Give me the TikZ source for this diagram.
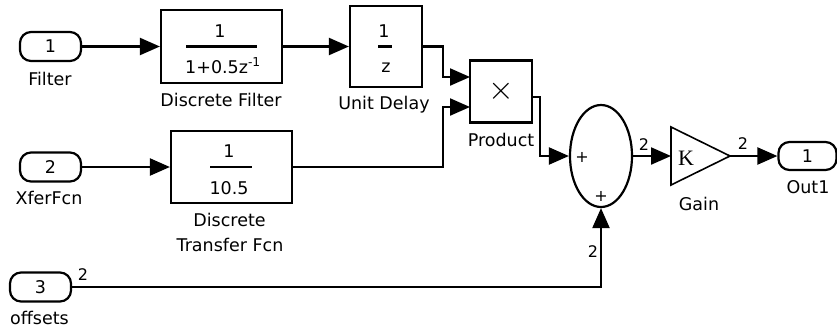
\documentclass[tikz,border=0pt]{standalone}
\usepackage{fontspec}
\setmainfont{DejaVu Sans}
\newfontfamily\kfont{Liberation Serif}
\usetikzlibrary{arrows.meta,shapes.geometric,calc}
\begin{document}
\begin{tikzpicture}[x=1pt,y=-1pt,line width=2.2pt,
  txt/.style={font=\fontsize{17.5}{20}\selectfont, inner sep=0},
  lbl/.style={txt, anchor=base},
  num/.style={font=\fontsize{16}{18}\selectfont, inner sep=0, anchor=base},
  port/.style={draw, rounded corners=11pt, minimum width=61pt, minimum height=29pt, inner sep=0, font=\fontsize{17.5}{20}\selectfont},
  blk/.style={draw, inner sep=0},
  pls/.style={font=\fontsize{16}{16}\selectfont, inner sep=0},
  conn/.style={-{Triangle[length=20pt,width=17pt]}}]
\useasboundingbox (0,0) rectangle (837,327);

% inport 1 and discrete filter
\node[port] (in1) at (50.5,46.5) {1};
\node[lbl] (in1l) at (50,85) {Filter};
\node[blk, minimum width=121pt, minimum height=73pt] (df) at (221.5,46.5) {};
\node[txt] (dfn) at (220,31) {1};
\draw (186,46.5) -- (257,46.5);
\node[txt, anchor=base] (dfd) at (223,73) {1+0.5z\textsuperscript{-1}};
\node[lbl] (dfl) at (221,106) {Discrete Filter};

% unit delay
\node[blk, minimum width=72pt, minimum height=81pt] (ud) at (386,46.5) {};
\node[txt] (udn) at (384,31) {1};
\draw (378,46.5) -- (392,46.5);
\node[txt] (udd) at (386,68) {z};
\node[lbl] (udl) at (384,109) {Unit Delay};

% product
\node[blk, minimum width=62pt, minimum height=62pt] (prod) at (501,91.5) {};
\node[inner sep=0] (px) at (501.5,91) {\scalebox{3.3}{$\times$}};
\node[lbl] (prodl) at (501,146) {Product};

% inport 2 and discrete transfer fcn
\node[port] (in2) at (50.5,167) {2};
\node[lbl] (in2l) at (49,204) {XferFcn};
\node[blk, minimum width=121pt, minimum height=72pt] (dtf) at (231.5,167) {};
\node[txt] (dtfn) at (229,151) {1};
\draw (210,167) -- (252,167);
\node[txt] (dtfd) at (229,188) {10.5};
\node[lbl] (dtfl1) at (229.5,226) {Discrete};
\node[lbl] (dtfl2) at (230,251) {Transfer Fcn};

% inport 3
\node[port] (in3) at (40.5,287) {3};
\node[lbl] (in3l) at (39.5,324) {offsets};

% sum
\node[draw, ellipse, minimum width=62pt, minimum height=102pt, inner sep=0] (sum) at (601,156) {};
\node[pls] (sp1) at (582,157) {+};
\node[pls] (sp2) at (601,196) {+};

% gain
\coordinate (gin) at (671,156);
\coordinate (gout) at (730,156);
\draw[line width=1.6pt] (671,127) -- (gout) -- (671,185) -- cycle;
\node[font=\kfont\fontsize{22}{22}\selectfont, inner sep=0] (gk) at (686,158) {K};
\node[lbl] (gl) at (699,210) {Gain};

% outport
\node[port, minimum width=58pt, minimum height=28pt] (out1) at (807.5,156) {1};
\node[lbl] (outl) at (808,193) {Out1};

% connectors
\coordinate (p1) at (470,77);
\coordinate (p2) at (470,107);
\coordinate (po) at (532,97);
\draw[conn] (in1) -- (df);
\draw[conn] (df) -- (ud);
\draw[conn] (ud.east) -- ++(20,0) |- (p1);
\draw[conn] (in2) -- (dtf);
\draw[conn] (dtf.east) -- ++(150,0) |- (p2);
\draw[conn] (po) -- ++(8,0) |- (sum.west);
\draw[conn] (sum.east) -- (gin);
\draw[conn] (gout) -- (out1);
\draw[conn] (in3) -- (sum.south |- in3) -- (sum.south);

% signal width labels
\node[num] (n1) at (644,150) {2};
\node[num] (n2) at (743,149) {2};
\node[num] (n3) at (83,280) {2};
\node[num] (n4) at (593,257) {2};
\end{tikzpicture}
\end{document}
